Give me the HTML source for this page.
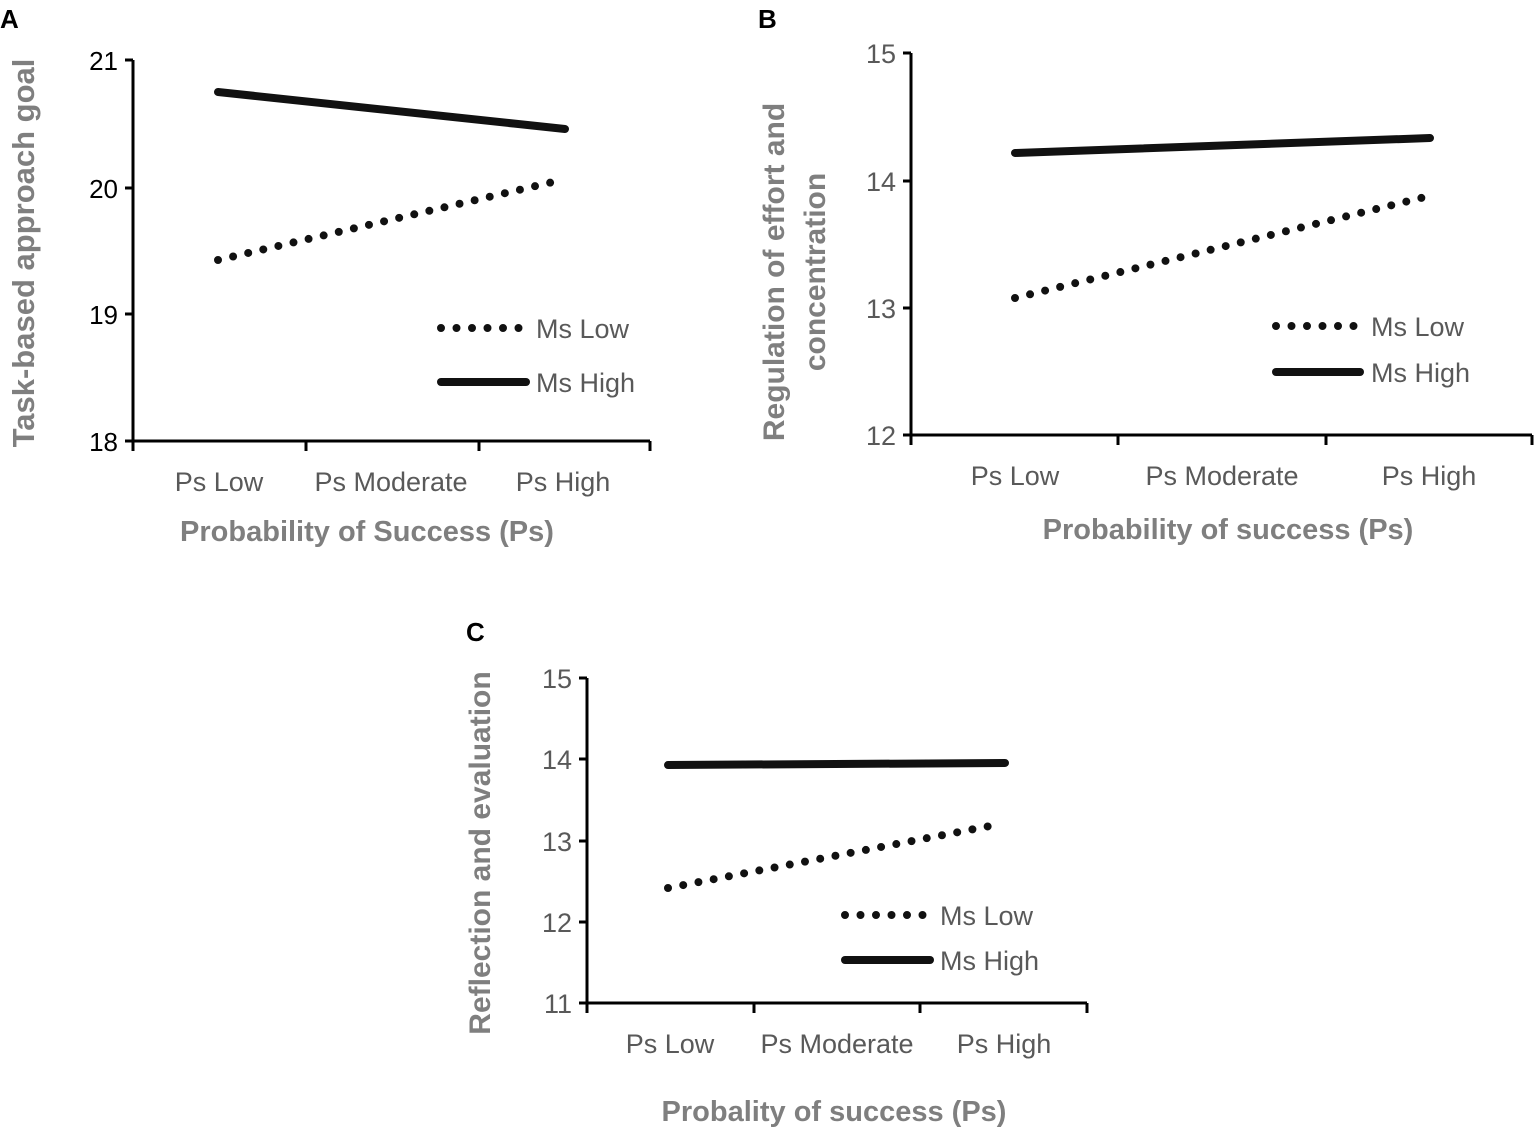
<!DOCTYPE html>
<html><head><meta charset="utf-8"><style>
body{margin:0;background:#fff}
svg{display:block}
text{font-family:"Liberation Sans",sans-serif}
.t{font-size:27px;fill:#595959;letter-spacing:0px}
.tb{font-size:26px;fill:#000}
.ti{font-size:29px;fill:#7f7f7f;font-weight:bold;letter-spacing:0px}
.ax{stroke:#000;stroke-width:3;fill:none}
.hi{stroke:#111;stroke-width:8;stroke-linecap:round}
.lo{stroke:#111;stroke-width:8;stroke-linecap:round;stroke-dasharray:0 15.5}
.lg{font-size:27px;fill:#595959}
</style></head><body>
<svg width="1535" height="1131" viewBox="0 0 1535 1131">
<text x="0" y="28" font-size="26" font-weight="bold">A</text>
<text x="758" y="28" font-size="26" font-weight="bold">B</text>
<text x="466" y="641" font-size="26" font-weight="bold">C</text>

<!-- A -->
<path class="ax" d="M133 60V441M125 60H133M125 188H133M125 314H133M125 441H650M133 441V451M306 441V451M479 441V451M650 441V451"/>
<text class="tb" x="118" y="70" text-anchor="end">21</text>
<text class="tb" x="118" y="198" text-anchor="end">20</text>
<text class="tb" x="118" y="324" text-anchor="end">19</text>
<text class="tb" x="118" y="451" text-anchor="end">18</text>
<text class="t" x="219" y="491" text-anchor="middle">Ps Low</text>
<text class="t" x="391" y="491" text-anchor="middle">Ps Moderate</text>
<text class="t" x="563" y="491" text-anchor="middle">Ps High</text>
<text class="ti" x="367" y="541" text-anchor="middle">Probability of Success (Ps)</text>
<text class="ti" transform="translate(34,253) rotate(-90)" text-anchor="middle" style="font-size:31px">Task-based approach goal</text>
<line class="hi" x1="218" y1="92" x2="565" y2="129"/>
<line class="lo" x1="218" y1="260" x2="553" y2="182"/>
<line class="lo" x1="441" y1="328" x2="522" y2="328"/>
<line class="hi" x1="441" y1="382" x2="526" y2="382"/>
<text class="lg" x="536" y="338">Ms Low</text>
<text class="lg" x="536" y="392">Ms High</text>

<!-- B -->
<path class="ax" d="M911 53V435M903 53H911M903 181H911M903 308H911M903 435H1532M911 435V445M1118 435V445M1326 435V445M1532 435V445"/>
<text class="t" x="896" y="63" text-anchor="end">15</text>
<text class="t" x="896" y="191" text-anchor="end">14</text>
<text class="t" x="896" y="318" text-anchor="end">13</text>
<text class="t" x="896" y="445" text-anchor="end">12</text>
<text class="t" x="1015" y="485" text-anchor="middle">Ps Low</text>
<text class="t" x="1222" y="485" text-anchor="middle">Ps Moderate</text>
<text class="t" x="1429" y="485" text-anchor="middle">Ps High</text>
<text class="ti" x="1228" y="539" text-anchor="middle">Probability of success (Ps)</text>
<text class="ti" transform="translate(784,272) rotate(-90)" text-anchor="middle" style="font-size:30px">Regulation of effort and</text>
<text class="ti" transform="translate(825,272) rotate(-90)" text-anchor="middle" style="font-size:30px">concentration</text>
<line class="hi" x1="1015" y1="153" x2="1430" y2="138"/>
<line class="lo" x1="1015" y1="298" x2="1425" y2="197"/>
<line class="lo" x1="1276" y1="326" x2="1356" y2="326"/>
<line class="hi" x1="1276" y1="372" x2="1360" y2="372"/>
<text class="lg" x="1371" y="336">Ms Low</text>
<text class="lg" x="1371" y="382">Ms High</text>

<!-- C -->
<path class="ax" d="M587 678V1003M579 678H587M579 759H587M579 841H587M579 922H587M579 1003H1087M587 1003V1013M754 1003V1013M920 1003V1013M1087 1003V1013"/>
<text class="t" x="572" y="688" text-anchor="end">15</text>
<text class="t" x="572" y="769" text-anchor="end">14</text>
<text class="t" x="572" y="851" text-anchor="end">13</text>
<text class="t" x="572" y="932" text-anchor="end">12</text>
<text class="t" x="572" y="1013" text-anchor="end">11</text>
<text class="t" x="670" y="1053" text-anchor="middle">Ps Low</text>
<text class="t" x="837" y="1053" text-anchor="middle">Ps Moderate</text>
<text class="t" x="1004" y="1053" text-anchor="middle">Ps High</text>
<text class="ti" x="834" y="1121" text-anchor="middle">Probality of success (Ps)</text>
<text class="ti" transform="translate(490,853) rotate(-90)" text-anchor="middle" style="font-size:30px">Reflection and evaluation</text>
<line class="hi" x1="668" y1="765" x2="1005" y2="763"/>
<line class="lo" x1="668" y1="888" x2="990" y2="826"/>
<line class="lo" x1="845" y1="915" x2="926" y2="915"/>
<line class="hi" x1="845" y1="960" x2="930" y2="960"/>
<text class="lg" x="940" y="925">Ms Low</text>
<text class="lg" x="940" y="970">Ms High</text>
</svg>
</body></html>
